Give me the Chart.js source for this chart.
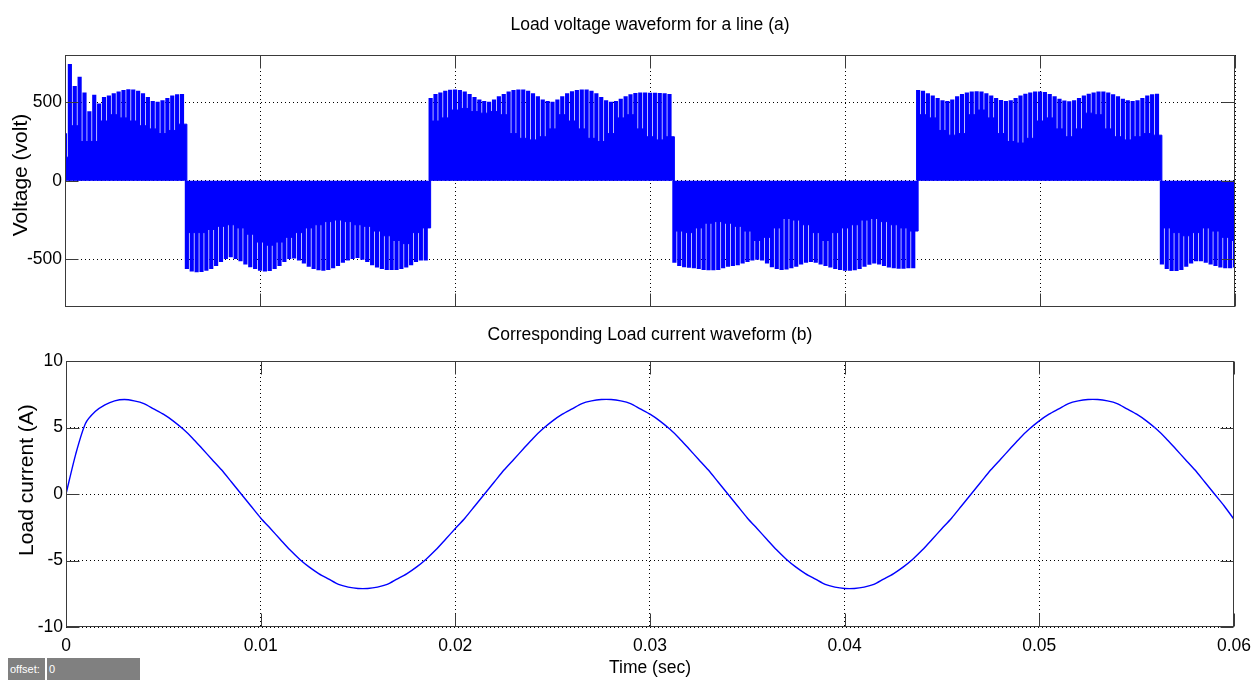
<!DOCTYPE html>
<html>
<head>
<meta charset="utf-8">
<script src="https://cdn.jsdelivr.net/npm/chart.js@4.4.0/dist/chart.umd.min.js"></script>
<style>
  html, body { margin: 0; padding: 0; background: #fff; }
  body { width: 1260px; height: 682px; position: relative; overflow: hidden; font-family: "Liberation Sans", Arial, sans-serif; color: #000; }
  canvas { position: absolute; left: 0; }
  .txt { position: absolute; white-space: nowrap; line-height: normal; }
  .ttl { font-size: 17.5px; transform: translateX(-50%); }
  .ylab { font-size: 21px; transform: translate(-50%, -50%) rotate(-90deg); }
  .off { position: absolute; top: 658px; height: 22px; background: #808080; color: #fff; font-size: 11px; line-height: 22px; padding-left: 2px; box-sizing: border-box; }
</style>
</head>
<body>
<canvas id="c1" width="1260" height="320" style="top:0"></canvas>
<canvas id="c2" width="1260" height="362" style="top:320px"></canvas>

<div class="txt ttl" style="left:650px; top:14px;">Load voltage waveform for a line (a)</div>
<div class="txt ttl" style="left:650px; top:324px;">Corresponding Load current waveform (b)</div>
<div class="txt ylab" style="left:20px; top:175px;">Voltage (volt)</div>
<div class="txt ylab" style="left:26px; top:480px;">Load current (A)</div>
<div class="txt ttl" style="left:650px; top:657px;">Time (sec)</div>
<div class="off" style="left:8px; width:37px;">offset:</div>
<div class="off" style="left:47px; width:93px;">0</div>

<script>
// ---------------- data ----------------
const X_TICKS = [0, 0.01, 0.02, 0.03, 0.04, 0.05, 0.06];
const X_TICK_LABELS = ['0', '0.01', '0.02', '0.03', '0.04', '0.05', '0.06'];
const V_TICKS = [-500, 0, 500];
const V_TICK_LABELS = ['-500', '0', '500'];
const I_TICKS = [-10, -5, 0, 5, 10];
const I_TICK_LABELS = ['-10', '-5', '0', '5', '10'];

// voltage: pulse tops, one every 0.25 ms (t = 0 ... 0.06 s)
const VOLT_STEP = 0.00025;
const VOLT_PEAK = [
  300, 740, 600, 660, 560, 440, 545, 490, 530, 540, 555, 565, 575, 580, 578, 570, 555, 530, 505, 500, 510, 525, 540, 548, 550,
  -560, -575, -580, -578, -570, -560, -540, -515, -495, -485,
  -495, -510, -530, -548, -560, -570, -575, -572, -560, -540,
  -515, -495, -492, -505, -525, -545, -560, -568, -570, -565,
  -555, -540, -520, -505, -495, -490, -500, -515, -535, -550,
  -560, -565, -565, -565, -560, -550, -535, -515, -505, -505,
  525, 550, 560, 570, 577, 578, 575, 565, 550, 530,
  515, 505, 500, 515, 535, 550, 565, 575, 578, 578,
  570, 555, 535, 515, 505, 500, 515, 535, 555, 568,
  575, 578, 578, 570, 555, 530, 510, 500, 505, 520,
  535, 548, 556, 560, 560, 558, 558, 556, 555, 550,
  -520, -540, -548, -552, -555, -560, -565, -568, -568, -565,
  -555, -545, -540, -535, -525, -515, -505, -500, -505, -525,
  -548, -560, -565, -562, -555, -545, -530, -520, -515, -520,
  -530, -540, -550, -560, -565, -570, -570, -568, -560, -545,
  -532, -525, -530, -540, -550, -555, -557, -557, -555, -555,
  575, 570, 555, 540, 525, 510, 505, 515, 535, 550,
  560, 566, 568, 565, 555, 540, 525, 512, 505, 510,
  525, 540, 552, 560, 565, 566, 562, 550, 535, 520,
  508, 503, 510, 525, 540, 552, 560, 565, 566, 560,
  548, 535, 520, 510, 505, 510, 525, 540, 548, 552,
  -530, -560, -572, -572, -565, -545, -525, -510, -510, -520, -530, -540, -550, -555, -555, -550
];

// voltage: level of the dense (solid) part, one every 0.5 ms
const VOLT_FILL_STEP = 0.0005;
const VOLT_DENSE = [
  150, 350, 250, 250, 380, 420, 400, 380, 350, 330, 300, 320, 360,
  -330, -330, -310, -290, -280, -300, -340, -390, -410, -390, -360, -330, -300, -280, -260, -250, -260, -280, -290, -320, -350, -380, -400, -330, -300,
  380, 400, 450, 460, 440, 430, 440, 420, 300, 270, 260, 280, 330, 420, 380, 330, 270, 250, 300, 400, 420, 330, 280, 260, 280,
  -320, -330, -300, -270, -260, -270, -290, -320, -380, -360, -300, -240, -250, -280, -330, -380, -330, -300, -280, -250, -240, -260, -280, -300, -320,
  420, 400, 320, 290, 300, 420, 450, 400, 300, 250, 240, 270, 380, 400, 330, 280, 330, 430, 420, 330, 280, 260, 280, 300, 290,
  -300, -330, -350, -330, -300, -320, -360, -380
];

// load current, one every 0.5 ms
const CURRENT_STEP = 0.0005;
const CURRENT = [
  0, 3.0, 5.3, 6.2, 6.7, 7.0, 7.1, 7.0, 6.8, 6.4,
  6.0, 5.5, 4.9, 4.2, 3.4, 2.6, 1.8, 0.9, 0, -0.9,
  -1.8, -2.6, -3.4, -4.2, -4.9, -5.5, -6.0, -6.4, -6.8, -7.0,
  -7.1, -7.1, -7.0, -6.8, -6.4, -6.0, -5.5, -4.9, -4.2, -3.4,
  -2.6, -1.8, -0.9, 0, 0.9, 1.8, 2.6, 3.4, 4.2, 4.9,
  5.5, 6.0, 6.4, 6.8, 7.0, 7.1, 7.1, 7.0, 6.8, 6.4,
  6.0, 5.5, 4.9, 4.2, 3.4, 2.6, 1.8, 0.9, 0, -0.9,
  -1.8, -2.6, -3.4, -4.2, -4.9, -5.5, -6.0, -6.4, -6.8, -7.0,
  -7.1, -7.1, -7.0, -6.8, -6.4, -6.0, -5.5, -4.9, -4.2, -3.4,
  -2.6, -1.8, -0.9, 0, 0.9, 1.8, 2.6, 3.4, 4.2, 4.9,
  5.5, 6.0, 6.4, 6.8, 7.0, 7.1, 7.1, 7.0, 6.8, 6.4,
  6.0, 5.5, 4.9, 4.2, 3.4, 2.6, 1.8, 0.9, 0, -0.9,
  -1.9
];

// ---------------- drawing ----------------
const FONT = { family: '"Liberation Sans", Arial, sans-serif', size: 17.5 };

const matlabFrame = {
  id: 'matlabFrame',
  afterDraw(chart) {
    const { ctx, chartArea: a, scales: { x, y } } = chart;
    ctx.save();
    ctx.setLineDash([]);
    ctx.strokeStyle = '#3a3a3a';
    ctx.lineWidth = 1;
    const L = Math.round(a.left) + 0.5, R = Math.round(a.right) - 0.5;
    const T = Math.round(a.top) + 0.5, B = Math.round(a.bottom) - 0.5;
    const len = 13;
    ctx.beginPath();
    x.ticks.forEach(t => {
      const p = Math.round(x.getPixelForValue(t.value)) + 0.5;
      ctx.moveTo(p, T); ctx.lineTo(p, T + len);
      ctx.moveTo(p, B); ctx.lineTo(p, B - len);
    });
    y.ticks.forEach(t => {
      const p = Math.round(y.getPixelForValue(t.value)) + 0.5;
      ctx.moveTo(L, p); ctx.lineTo(L + len, p);
      ctx.moveTo(R, p); ctx.lineTo(R - len, p);
    });
    ctx.stroke();
    ctx.strokeRect(L, T, R - L, B - T);
    ctx.restore();
  }
};

function xScale(showLabels, height) {
  return {
    type: 'linear', min: 0, max: 0.06, offset: false, z: 1,
    afterBuildTicks: s => { s.ticks = X_TICKS.map(v => ({ value: v })); },
    afterFit: s => { s.height = height; },
    grid: { color: '#000', lineWidth: 1, drawTicks: false, offset: false },
    border: { display: false, dash: [1, 3] },
    ticks: { display: showLabels, autoSkip: false, maxRotation: 0, padding: 9, color: '#000', font: FONT,
             callback: (v, i) => X_TICK_LABELS[i] }
  };
}
function yScale(min, max, ticks, labels, width) {
  return {
    type: 'linear', min, max, z: 1,
    afterBuildTicks: s => { s.ticks = ticks.map(v => ({ value: v })); },
    afterFit: s => { s.width = width; },
    grid: { color: '#000', lineWidth: 1, drawTicks: false },
    border: { display: false, dash: [1, 3] },
    ticks: { padding: 3, color: '#000', font: FONT, callback: (v, i) => labels[i] }
  };
}

const common = {
  responsive: false, animation: false, devicePixelRatio: 1,
  plugins: { legend: { display: false }, tooltip: { enabled: false }, title: { display: false } },
  events: []
};

new Chart(document.getElementById('c1'), {
  type: 'line',
  data: {
    datasets: [
      {
        type: 'line',
        data: VOLT_DENSE.map((v, i) => ({ x: i * VOLT_FILL_STEP, y: v })),
        stepped: 'middle', fill: 'origin',
        backgroundColor: '#0000ff', borderColor: '#0000ff', borderWidth: 1, pointRadius: 0
      },
      {
        type: 'bar',
        data: VOLT_PEAK.map((v, i) => ({ x: i * VOLT_STEP, y: v })),
        backgroundColor: '#0000ff', borderWidth: 0, barThickness: 3.5, grouped: false
      }
    ]
  },
  options: Object.assign({}, common, {
    layout: { padding: { left: 0, right: 25, top: 55, bottom: 10 } },
    scales: { x: xScale(false, 0), y: yScale(-800, 800, V_TICKS, V_TICK_LABELS, 65) }
  }),
  plugins: [matlabFrame]
});

new Chart(document.getElementById('c2'), {
  type: 'line',
  data: {
    datasets: [{
      data: CURRENT.map((v, i) => ({ x: i * CURRENT_STEP, y: v })),
      borderColor: '#0000ff', borderWidth: 1.4, pointRadius: 0, tension: 0.25, fill: false
    }]
  },
  options: Object.assign({}, common, {
    layout: { padding: { left: 0, right: 25, top: 41, bottom: 0 } },
    scales: { x: xScale(true, 55), y: yScale(-10, 10, I_TICKS, I_TICK_LABELS, 66) }
  }),
  plugins: [matlabFrame]
});
</script>
</body>
</html>
